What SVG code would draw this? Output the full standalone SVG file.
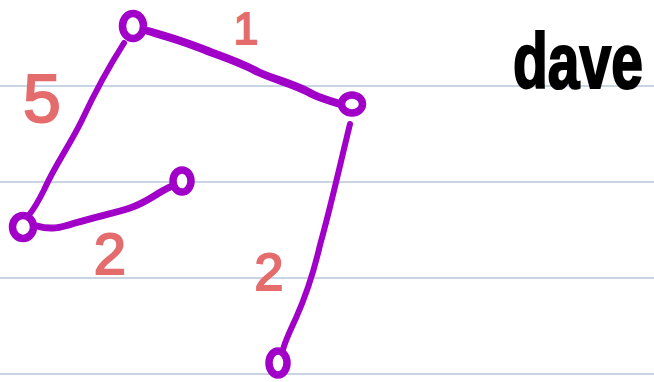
<svg xmlns="http://www.w3.org/2000/svg" width="654" height="382" viewBox="0 0 654 382">
<style>
.rule{stroke:#c9d5e3;stroke-width:2}
.edge{fill:none;stroke:#a000c8;stroke-linecap:round;stroke-linejoin:round}
.node{fill:#ffffff;stroke:#a000c8;stroke-width:7.5}
.w{font-family:"Liberation Sans",Arial,sans-serif;fill:#e46c6c;stroke:#e46c6c;stroke-width:2;text-anchor:middle}
.name{font-family:"Liberation Sans",Arial,sans-serif;font-weight:bold;fill:#000;stroke:#000;stroke-width:1.6}
</style>
<rect width="654" height="382" fill="#ffffff"/>
<g id="rules">
<line class="rule" x1="0" y1="86" x2="654" y2="86"/>
<line class="rule" x1="0" y1="182" x2="654" y2="182"/>
<line class="rule" x1="0" y1="278" x2="654" y2="278"/>
<line class="rule" x1="0" y1="374" x2="654" y2="374"/>
</g>
<g id="connectors">
<path class="edge" stroke-width="8" d="M148,31 C165,36 180,40 200,48 C220,56 240,62 258,72 C275,80 295,84 312,94 C320,98 330,101 340,104"/>
<path class="edge" stroke-width="6" d="M124,43 C110,65 96,90 82,120 C70,145 55,165 44,190 C38,202 33,210 29,215"/>
<path class="edge" stroke-width="7" d="M37,226 C50,230 60,228 75,223 C95,217 115,213 130,208 C148,202 155,194 170,187"/>
<path class="edge" stroke-width="6" d="M350,124 C340,165 330,210 320,245 C312,280 304,300 296,318 C288,335 284,345 283,350"/>
</g>
<g id="node-a"><ellipse class="node" cx="133" cy="26" rx="10.5" ry="12.5"/></g>
<g id="node-b"><ellipse class="node" cx="352" cy="104" rx="10.5" ry="9"/></g>
<g id="node-c"><ellipse class="node" cx="182" cy="181" rx="9" ry="11"/></g>
<g id="node-d"><ellipse class="node" cx="23" cy="227" rx="10.5" ry="11.5"/></g>
<g id="node-e"><ellipse class="node" cx="278" cy="363" rx="9" ry="12"/></g>
<g id="labels">
<text class="w" x="246" y="44" font-size="44">1</text>
<text class="w" x="42" y="122" font-size="68">5</text>
<text class="w" x="110" y="274" font-size="58">2</text>
<text class="w" x="269" y="290" font-size="52">2</text>
<text class="name" transform="translate(513,88) scale(1,1.35)" x="0" y="0" font-size="57">dave</text>
</g>
</svg>
